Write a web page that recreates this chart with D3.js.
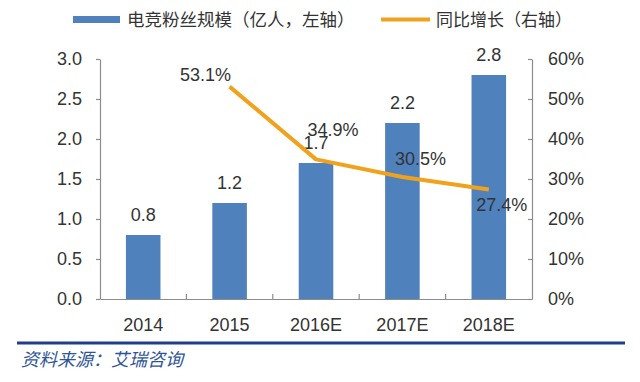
<!DOCTYPE html>
<html>
<head>
<meta charset="utf-8">
<script src="https://cdn.jsdelivr.net/npm/d3@7"></script>
<style>
  body { margin: 0; background: #fff; }
  text { font-family: "Liberation Sans", Arial, sans-serif; fill: #333; }
  .cn { font-family: "Noto Sans CJK SC", sans-serif; }
</style>
</head>
<body>
<div id="chart-area"></div>
<script>
// data
const years = ["2014", "2015", "2016E", "2017E", "2018E"];
const fans = [0.8, 1.2, 1.7, 2.2, 2.8];
const growth = [null, 0.531, 0.349, 0.305, 0.274];
const leftTicks = [0, 0.5, 1.0, 1.5, 2.0, 2.5, 3.0];
const rightTicks = [0, 0.1, 0.2, 0.3, 0.4, 0.5, 0.6];
// label offsets for growth labels (dx, dy from point)
const growthLabelOffsets = [null, [-24, -6], [17, -23], [18, -12], [13, 22]];

const W = 640, H = 382;
const plot = { left: 100, right: 532, top: 59, bottom: 299 };

const svg = d3.select("#chart-area").append("svg")
    .attr("width", W)
    .attr("height", H);

const x = d3.scaleBand()
    .domain(years)
    .range([plot.left, plot.right])
    .paddingInner(0.6)
    .paddingOuter(0.3);

const yL = d3.scaleLinear().domain([0, 3]).range([plot.bottom, plot.top]);
const yR = d3.scaleLinear().domain([0, 0.6]).range([plot.bottom, plot.top]);

const barColor = "#4F81BD";
const lineColor = "#F0A21C";

// bars
svg.selectAll("rect.bar").data(fans)
    .enter().append("rect")
    .attr("class", "bar")
    .attr("x", (d, i) => x(years[i]))
    .attr("y", d => yL(d))
    .attr("width", x.bandwidth())
    .attr("height", d => plot.bottom - yL(d))
    .attr("fill", barColor);

svg.selectAll("text.barlab").data(fans)
    .enter().append("text")
    .attr("class", "barlab")
    .attr("x", (d, i) => x(years[i]) + x.bandwidth() / 2)
    .attr("y", d => yL(d) - 14)
    .attr("text-anchor", "middle")
    .attr("font-size", 18)
    .text(d => d.toFixed(1));

// axes
const yAxisL = d3.axisLeft(yL)
    .tickValues(leftTicks)
    .tickFormat(d3.format(".1f"))
    .tickSizeInner(4)
    .tickSizeOuter(0)
    .tickPadding(14);
const gL = svg.append("g")
    .attr("transform", `translate(${plot.left},0)`)
    .call(yAxisL);

const yAxisR = d3.axisRight(yR)
    .tickValues(rightTicks)
    .tickFormat(d3.format(".0%"))
    .tickSizeInner(-4)
    .tickSizeOuter(0)
    .tickPadding(16);
const gR = svg.append("g")
    .attr("transform", `translate(${plot.right},0)`)
    .call(yAxisR);

const xAxis = d3.axisBottom(x).tickSize(0).tickPadding(19);
const gX = svg.append("g")
    .attr("transform", `translate(0,${plot.bottom})`)
    .call(xAxis);

// category separator ticks
const gap = (x.step() - x.bandwidth()) / 2;
gX.selectAll("line.sep").data(years.slice(1))
    .enter().append("line")
    .attr("class", "sep")
    .attr("x1", d => x(d) - gap)
    .attr("x2", d => x(d) - gap)
    .attr("y1", 0)
    .attr("y2", -5);

[gL, gR, gX].forEach(g => {
    g.selectAll("path, line").attr("stroke", "#8c8c8c").attr("stroke-width", 1.2);
    g.selectAll("text").attr("font-size", 18).attr("fill", "#333")
        .attr("font-family", "'Liberation Sans', Arial, sans-serif");
});

// growth line
const pts = growth.map((g, i) => ({ v: g, i: i })).filter(d => d.v !== null);
const line = d3.line()
    .x(d => x(years[d.i]) + x.bandwidth() / 2)
    .y(d => yR(d.v));
svg.append("path")
    .datum(pts)
    .attr("d", line)
    .attr("fill", "none")
    .attr("stroke", lineColor)
    .attr("stroke-width", 4)
    .attr("stroke-linejoin", "round");

svg.selectAll("text.glab").data(pts)
    .enter().append("text")
    .attr("class", "glab")
    .attr("x", d => x(years[d.i]) + x.bandwidth() / 2 + growthLabelOffsets[d.i][0])
    .attr("y", d => yR(d.v) + growthLabelOffsets[d.i][1])
    .attr("text-anchor", "middle")
    .attr("font-size", 18)
    .text(d => (d.v * 100).toFixed(1) + "%");

// legend
svg.append("rect")
    .attr("x", 73).attr("y", 16)
    .attr("width", 47).attr("height", 7)
    .attr("fill", barColor);
svg.append("text")
    .attr("class", "cn")
    .attr("x", 127).attr("y", 26)
    .attr("font-size", 17.5)
    .text("电竞粉丝规模（亿人，左轴）");
svg.append("line")
    .attr("x1", 381).attr("x2", 430)
    .attr("y1", 19.5).attr("y2", 19.5)
    .attr("stroke", lineColor)
    .attr("stroke-width", 4);
svg.append("text")
    .attr("class", "cn")
    .attr("x", 436).attr("y", 26)
    .attr("font-size", 17)
    .text("同比增长（右轴）");

// source
svg.append("line")
    .attr("x1", 17).attr("x2", 625)
    .attr("y1", 343).attr("y2", 343)
    .attr("stroke", "#203f8a")
    .attr("stroke-width", 3);
svg.append("text")
    .attr("class", "cn")
    .attr("x", 21).attr("y", 366)
    .attr("font-size", 18)
    .attr("font-style", "italic")
    .style("fill", "#2f5597")
    .text("资料来源：艾瑞咨询");
</script>
</body>
</html>
